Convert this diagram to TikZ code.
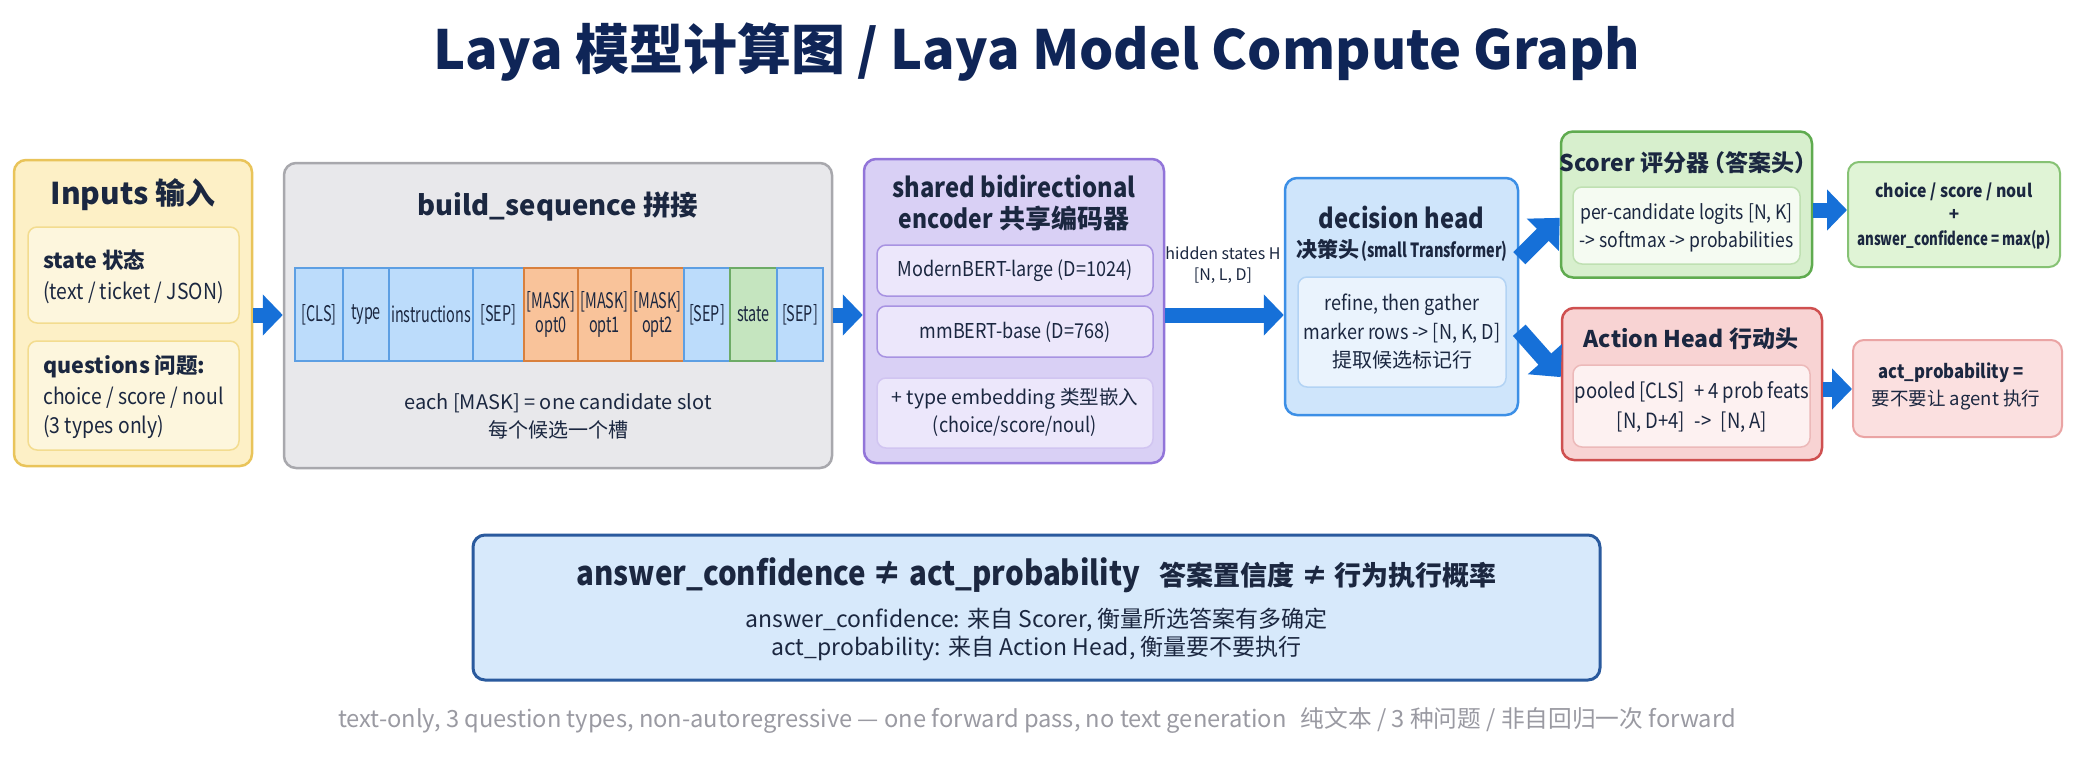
\documentclass[tikz,border=0pt]{standalone}
\usepackage{fontspec}
\setmainfont{Noto Sans CJK SC}
\newfontfamily\nar{Noto Sans CJK SC}[FakeStretch=0.74]
\newfontfamily\tnar{Noto Sans CJK SC}[FakeStretch=0.67]
\newfontfamily\semi{Noto Sans CJK SC}[FakeStretch=0.88]
\usetikzlibrary{arrows.meta,calc}
\definecolor{navy}{HTML}{0F2557}
\definecolor{ink}{HTML}{1B2740}
\definecolor{arrowblue}{HTML}{1670D8}
\definecolor{inF}{HTML}{FDF0C6}\definecolor{inD}{HTML}{E9C45A}
\definecolor{inIF}{HTML}{FDF6DD}\definecolor{inID}{HTML}{F3DC8F}
\definecolor{bsF}{HTML}{E8E8EB}\definecolor{bsD}{HTML}{A8A8AD}
\definecolor{tbF}{HTML}{BCDCFB}\definecolor{tbD}{HTML}{5D9FE3}
\definecolor{toF}{HTML}{F9C39A}\definecolor{toD}{HTML}{D9803D}
\definecolor{tgF}{HTML}{C5E5BF}\definecolor{tgD}{HTML}{6DAB66}
\definecolor{enF}{HTML}{D9D0F5}\definecolor{enD}{HTML}{9275D9}
\definecolor{enIF}{HTML}{ECE7FB}\definecolor{enID}{HTML}{A893E2}
\definecolor{dhF}{HTML}{CFE5FB}\definecolor{dhD}{HTML}{3C8FE6}
\definecolor{dhIF}{HTML}{EAF3FD}\definecolor{dhID}{HTML}{B3D3F4}
\definecolor{scF}{HTML}{D7EFCD}\definecolor{scD}{HTML}{5FAB4F}
\definecolor{scIF}{HTML}{F5FBF2}\definecolor{scID}{HTML}{BFE0B2}
\definecolor{ahF}{HTML}{F8D3D3}\definecolor{ahD}{HTML}{CF5050}
\definecolor{ahIF}{HTML}{FDF1F1}\definecolor{ahID}{HTML}{ECB9B9}
\definecolor{ogF}{HTML}{E0F4D6}\definecolor{ogD}{HTML}{86C274}
\definecolor{orF}{HTML}{FBE0E0}\definecolor{orD}{HTML}{EAA4A4}
\definecolor{btF}{HTML}{D7E9FB}\definecolor{btD}{HTML}{2A5A9E}
\definecolor{foot}{HTML}{9A9AA2}
\newcommand\fsz[1]{\fontsize{#1}{#1}\selectfont}
\begin{document}
\begin{tikzpicture}[x=1pt,y=-1pt,
  box/.style={draw, rounded corners=12pt, line width=2.5pt, inner sep=0pt, anchor=center},
  ibox/.style={draw, rounded corners=9pt, line width=1.5pt, inner sep=0pt, anchor=center},
  tok/.style={draw, line width=1.5pt, inner sep=0pt, minimum height=93pt, text=ink, font=\tnar\fsz{21.5}, align=center, anchor=center},
  txt/.style={inner sep=0pt, text=ink, anchor=center},
  fat/.style={draw=arrowblue, line width=15pt, -{Triangle[length=20pt,width=40pt]}},
  diag/.style={draw=arrowblue, line width=17pt, -{Triangle[length=24pt,width=44pt]}}
]
\useasboundingbox (0,0) rectangle (2073,758);
\fill[white] (0,0) rectangle (2073,758);

% title
\node[txt,text=navy,font=\fsz{54}\bfseries] (title) at (1037,52) {Laya 模型计算图 / Laya Model Compute Graph};

% Inputs
\node[box,fill=inF,draw=inD,minimum width=238pt,minimum height=306pt] (inputs) at (133,313) {};
\node[txt,font=\fsz{30}\bfseries] (intitle) at (133,195) {Inputs 输入};
\node[ibox,fill=inIF,draw=inID,minimum width=211pt,minimum height=96pt] (statebox) at (133.5,275) {};
\node[txt,anchor=west,font=\fsz{21.5}\bfseries] (st1) at (43,260) {state 状态};
\node[txt,anchor=west,font=\semi\fsz{22}] (st2) at (43,293) {(text / ticket / JSON)};
\node[ibox,fill=inIF,draw=inID,minimum width=211pt,minimum height=109pt] (qbox) at (133.5,395.5) {};
\node[txt,anchor=west,font=\fsz{21.5}\bfseries] (q1) at (43,367) {questions 问题:};
\node[txt,anchor=west,font=\semi\fsz{22}] (q2) at (43,398) {choice / score / noul};
\node[txt,anchor=west,font=\semi\fsz{22}] (q3) at (43,427) {(3 types only)};

% build_sequence
\node[box,fill=bsF,draw=bsD,minimum width=548pt,minimum height=305pt] (build) at (558,315.5) {};
\node[txt,font=\fsz{27.5}\bfseries] (bstitle) at (558,207) {build\_sequence 拼接};
\node[tok,fill=tbF,draw=tbD,minimum width=48pt] (t1) at (319,314.5) {[CLS]};
\node[tok,fill=tbF,draw=tbD,minimum width=46pt] (t2) at (366,314.5) {type};
\node[tok,fill=tbF,draw=tbD,minimum width=84pt] (t3) at (431,314.5) {instructions};
\node[tok,fill=tbF,draw=tbD,minimum width=51pt] (t4) at (498.5,314.5) {[SEP]};
\node[tok,fill=toF,draw=toD,minimum width=54pt] (t5) at (551,314.5) {[MASK]\\[2pt]opt0};
\node[tok,fill=toF,draw=toD,minimum width=53pt] (t6) at (604.5,314.5) {[MASK]\\[2pt]opt1};
\node[tok,fill=toF,draw=toD,minimum width=53pt] (t7) at (657.5,314.5) {[MASK]\\[2pt]opt2};
\node[tok,fill=tbF,draw=tbD,minimum width=46pt] (t8) at (707,314.5) {[SEP]};
\node[tok,fill=tgF,draw=tgD,minimum width=47pt] (t9) at (753.5,314.5) {state};
\node[tok,fill=tbF,draw=tbD,minimum width=46pt] (t10) at (800,314.5) {[SEP]};
\node[txt,font=\fsz{20}] (bs1) at (558,403) {each [MASK] = one candidate slot};
\node[txt,font=\fsz{20}] (bs2) at (558,430) {每个候选一个槽};

% encoder
\node[box,fill=enF,draw=enD,minimum width=300pt,minimum height=304pt] (enc) at (1014,311) {};
\node[txt,font=\semi\fsz{27}\bfseries] (en1) at (1014,186) {shared bidirectional};
\node[txt,font=\fsz{26}\bfseries] (en2) at (1014,218) {{\semi encoder} 共享编码器};
\node[ibox,fill=enIF,draw=enID,minimum width=276pt,minimum height=51pt] (eb1) at (1015,270.5) {};
\node[txt,font=\semi\fsz{20.5}] (eb1t) at (1015,271) {ModernBERT-large (D=1024)};
\node[ibox,fill=enIF,draw=enID,minimum width=276pt,minimum height=51pt] (eb2) at (1015,331.5) {};
\node[txt,font=\semi\fsz{20.5}] (eb2t) at (1015,332) {mmBERT-base (D=768)};
\node[ibox,fill=enIF,draw=enIF!60!enID,minimum width=276pt,minimum height=70pt] (eb3) at (1015,413) {};
\node[txt,font=\fsz{19.5}] (eb3a) at (1015,399) {+ type embedding 类型嵌入};
\node[txt,font=\semi\fsz{20.5}] (eb3b) at (1015,426) {(choice/score/noul)};

% decision head
\node[box,fill=dhF,draw=dhD,minimum width=233pt,minimum height=237pt] (dec) at (1401.5,296.5) {};
\node[txt,font=\semi\fsz{27}\bfseries] (de1) at (1401.5,217) {decision head};
\node[txt] (de2) at (1402,250) {{\fsz{21}\bfseries 决策头} {\nar\fsz{19.5}\bfseries (small Transformer)}};
\node[ibox,fill=dhIF,draw=dhID,minimum width=208pt,minimum height=110pt] (decin) at (1402,332) {};
\node[txt,font=\semi\fsz{20.5}] (di1) at (1402,305) {refine, then gather};
\node[txt,font=\semi\fsz{20.5}] (di2) at (1402,333) {marker rows -> [N, K, D]};
\node[txt,font=\fsz{20}] (di3) at (1402,360) {提取候选标记行};

% scorer
\node[box,fill=scF,draw=scD,minimum width=251pt,minimum height=146pt] (scorer) at (1686.5,204.5) {};
\node[txt,font=\fsz{23}\bfseries] (sct) at (1684,163) {Scorer 评分器\kern-.3em（答案头）\kern-.4em};
\node[ibox,fill=scIF,draw=scID,minimum width=227pt,minimum height=77pt] (scin) at (1686.5,225.5) {};
\node[txt,font=\semi\fsz{20}] (sc1) at (1686.5,214) {per-candidate logits [N, K]};
\node[txt,font=\semi\fsz{20}] (sc2) at (1686.5,242) {-> softmax -> probabilities};

% action head
\node[box,fill=ahF,draw=ahD,minimum width=260pt,minimum height=152pt] (action) at (1692,384) {};
\node[txt,font=\fsz{23}\bfseries] (aht) at (1691,339) {Action Head 行动头};
\node[ibox,fill=ahIF,draw=ahID,minimum width=237pt,minimum height=82pt] (ahin) at (1691.5,406) {};
\node[txt,font=\semi\fsz{21}] (ah1) at (1692,392) {pooled [CLS]\hspace{0.45em}+ 4 prob feats};
\node[txt,font=\semi\fsz{21}] (ah2) at (1692,422) {[N, D+4]\hspace{0.45em}->\hspace{0.45em}[N, A]};

% outputs
\node[box,rounded corners=11pt,line width=2pt,fill=ogF,draw=ogD,minimum width=212pt,minimum height=105pt] (out1) at (1954,214.5) {};
\node[txt,font=\semi\fsz{18}\bfseries] (o11) at (1954,192) {choice / score / noul};
\node[txt,font=\fsz{17}\bfseries] (o12) at (1954,215) {+};
\node[txt,font=\nar\fsz{18}\bfseries] (o13) at (1954,240) {answer\_confidence = max(p)};
\node[box,rounded corners=11pt,line width=2pt,fill=orF,draw=orD,minimum width=209pt,minimum height=97pt] (out2) at (1957.5,388.5) {};
\node[txt,font=\semi\fsz{19}\bfseries] (o21) at (1951,373) {act\_probability =};
\node[txt,font=\fsz{18.5}] (o22) at (1956,400) {要不要让 agent 执行};

% arrows
\draw[fat] (inputs.east |- 0,315) -- (build.west |- 0,315);
\draw[fat] (build.east |- 0,315) -- (enc.west |- 0,315);
\draw[fat] (enc.east |- 0,315) -- (dec.west |- 0,315);
\node[txt,font=\fsz{16}] (hs1) at (1223,253) {hidden states H};
\node[txt,font=\fsz{16}] (hs2) at (1223,276) {[N, L, D]};
\draw[diag] (dec.18) -- (scorer.186);
\draw[diag] (dec.-16) -- (action.177);
\draw[fat] (scorer.east |- 0,210) -- (out1.west |- 0,210);
\draw[fat] (action.east |- 0,389) -- (out2.west |- 0,389);

% bottom
\node[box,line width=3pt,rounded corners=12pt,fill=btF,draw=btD,minimum width=1127pt,minimum height=145pt] (bottom) at (1036.5,607.5) {};
\node[txt] (bt) at (1036.5,575) {{\semi\fsz{33.5}\bfseries answer\_confidence ≠ act\_probability}\hspace{20pt}{\fsz{27}\bfseries 答案置信度 ≠ 行为执行概率}};
\node[txt,font=\fsz{23}] (bl1) at (1036.5,620) {answer\_confidence: 来自 Scorer, 衡量所选答案有多确定};
\node[txt,font=\fsz{23}] (bl2) at (1036.5,648) {act\_probability: 来自 Action Head, 衡量要不要执行};

% footer
\node[txt,text=foot,font=\fsz{23.7}] (footer) at (1037,720) {text-only, 3 question types, non-autoregressive — one forward pass, no text generation\hspace{0.6em}纯文本 / 3 种问题 / 非自回归一次 forward};
\end{tikzpicture}
\end{document}
